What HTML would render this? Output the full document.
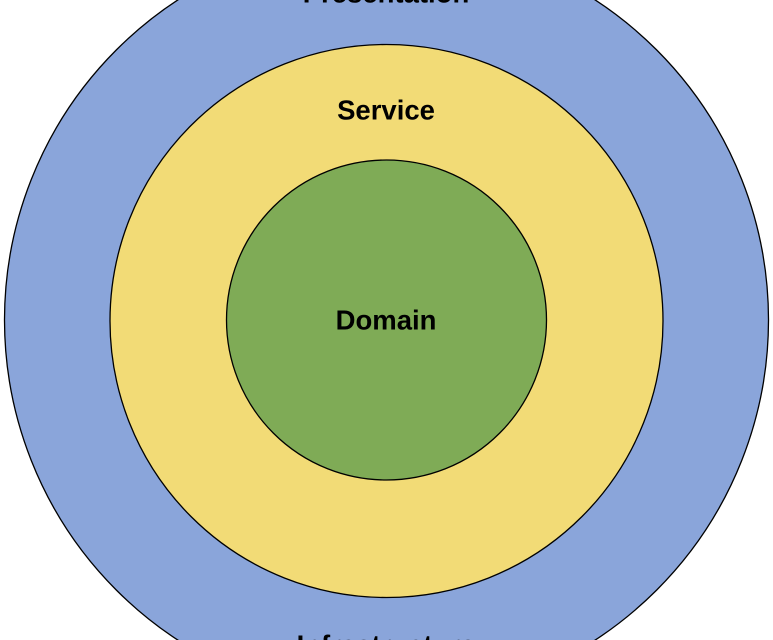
<!DOCTYPE html>
<html><head><style>
html,body{margin:0;padding:0;background:#fff;width:773px;height:640px;overflow:hidden;}
svg{display:block;overflow:hidden;}
text{font-family:"Liberation Sans",Arial,sans-serif;font-weight:bold;font-size:27.5px;fill:#000;text-anchor:middle;dominant-baseline:central;}
</style></head><body>
<svg width="773" height="640" viewBox="0 0 773 640">
<circle cx="386.5" cy="320" r="382" fill="#8aa5da" stroke="#000" stroke-width="1.3"/>
<circle cx="386.5" cy="321" r="276.5" fill="#f2db76" stroke="#000" stroke-width="1.3"/>
<circle cx="386.5" cy="320" r="160" fill="#7fab56" stroke="#000" stroke-width="1.3"/>
<text x="386" y="-7">Presentation</text>
<text x="386" y="110">Service</text>
<text x="386" y="320">Domain</text>
<text x="386" y="645">Infrastructure</text>
</svg>
</body></html>
